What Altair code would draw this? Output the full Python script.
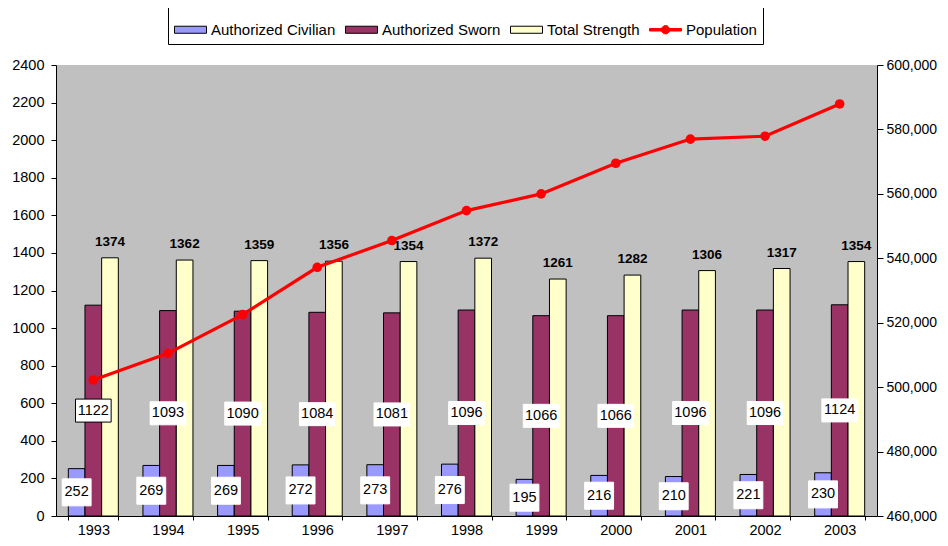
import altair as alt
import pandas as pd

years = ["1993", "1994", "1995", "1996", "1997", "1998", "1999", "2000", "2001", "2002", "2003"]
civilian = [252, 269, 269, 272, 273, 276, 195, 216, 210, 221, 230]
sworn = [1122, 1093, 1090, 1084, 1081, 1096, 1066, 1066, 1096, 1096, 1124]
total = [1374, 1362, 1359, 1356, 1354, 1372, 1261, 1282, 1306, 1317, 1354]
population = [502200, 510500, 522500, 537200, 545500, 554800, 560000, 569500, 577000, 577900, 587900]

bar_series = ["Authorized Civilian", "Authorized Sworn", "Total Strength"]
all_series = bar_series + ["Population"]
bar_colors = ["#9999FF", "#993366", "#FFFFCC"]
pop_color = "#FF0000"
left_ticks = list(range(0, 2401, 200))
right_ticks = list(range(460000, 600001, 20000))

rows = []
for i, y in enumerate(years):
    rows.append({"year": y, "series": bar_series[0], "value": civilian[i]})
    rows.append({"year": y, "series": bar_series[1], "value": sworn[i]})
    rows.append({"year": y, "series": bar_series[2], "value": total[i]})
bars_df = pd.DataFrame(rows)
pop_df = pd.DataFrame({"year": years, "series": "Population", "pop": population})

FONT = "Liberation Sans"
LSCALE = alt.Scale(domain=[0, 2400], nice=False, zero=True)
RSCALE = alt.Scale(domain=[460000, 600000], nice=False, zero=False)

x_enc = alt.X("year:N", sort=years,
              scale=alt.Scale(paddingInner=0.33, paddingOuter=0.165),
              axis=alt.Axis(title=None, labelAngle=0, tickBand="extent", tickSize=4,
                            labelPadding=3, labelFontSize=14.5, labelColor="black",
                            domainColor="black", tickColor="black", labelFont=FONT))
xoff = alt.XOffset("series:N", scale=alt.Scale(domain=bar_series, paddingInner=0, paddingOuter=0))

y_left = alt.Y("value:Q", scale=LSCALE,
               axis=alt.Axis(title=None, values=left_ticks, orient="left", format="d",
                             tickSize=5, labelPadding=7, labelFontSize=14.5, labelColor="black",
                             domainColor="black", tickColor="black", grid=False, labelFont=FONT))
y_right = alt.Y("pop:Q", scale=RSCALE,
                axis=alt.Axis(title=None, values=right_ticks, orient="right", format=",.0f",
                              tickSize=6, labelPadding=3, labelFontSize=14, labelColor="black",
                              domainColor="black", tickColor="black", grid=False, labelFont=FONT))
# bar colour scale has its own (3-entry) domain so its hidden legend never merges with the real one
color_enc = alt.Color("series:N", scale=alt.Scale(domain=bar_series, range=bar_colors), legend=None)

base = alt.Chart(bars_df)

bars = base.mark_bar(stroke="black", strokeWidth=1).encode(
    x=x_enc, xOffset=xoff, y=y_left, color=color_enc)

mid_y = alt.Y("mid:Q", scale=LSCALE, axis=None)

civ_box = base.transform_filter(alt.datum.series == bar_series[0]).transform_calculate(
    mid="datum.value / 2").mark_point(
    shape="M-1.07,-1H1.07V1H-1.07Z", size=729, filled=True, fill="white", opacity=1,
    stroke="white", strokeWidth=1).encode(x=x_enc, xOffset=xoff, y=mid_y)

sworn_box = base.transform_filter(alt.datum.series == bar_series[1]).transform_calculate(
    mid="datum.value / 2").mark_point(
    shape="M-1.55,-1H1.55V1H-1.55Z", size=529, filled=True, fill="white", opacity=1,
    strokeWidth=1).encode(
    x=x_enc, xOffset=xoff, y=mid_y,
    stroke=alt.condition("datum.year == '1993'", alt.value("black"), alt.value("white")))

mid_text = base.transform_filter(
    (alt.datum.series == bar_series[0]) | (alt.datum.series == bar_series[1])
).transform_calculate(mid="datum.value / 2").mark_text(
    fontSize=14.5, font=FONT, color="black", baseline="middle", align="center").encode(
    x=x_enc, xOffset=xoff, y=mid_y, text="value:Q")

total_text = base.transform_filter(alt.datum.series == bar_series[2]).mark_text(
    fontSize=13.5, font=FONT, fontWeight="bold", color="black", baseline="middle",
    align="center", dy=-16).encode(
    x=x_enc, xOffset=xoff, y=alt.Y("value:Q", scale=LSCALE, axis=None), text="value:Q")

pbase = alt.Chart(pop_df)
line = pbase.mark_line(strokeWidth=3.2, color=pop_color).encode(x=x_enc, y=y_right)
pts = pbase.mark_circle(size=92, opacity=1, color=pop_color).encode(
    x=x_enc, y=alt.Y("pop:Q", scale=RSCALE, axis=None))

rect_path = "M-1,-0.22H1V0.22H-1Z"
pop_path = ("M-1,-0.08H1V0.08H-1Z"
            "M0.25,0.1L0.1,0.25L-0.1,0.25L-0.25,0.1L-0.25,-0.1L-0.1,-0.25L0.1,-0.25L0.25,-0.1Z")
leg = alt.Legend(orient="none", legendX=112, legendY=-58, direction="horizontal", title=None,
                 fillColor="white", strokeColor="black", padding=6, columnPadding=7,
                 labelOffset=4, labelFontSize=15, labelFont=FONT, labelColor="black",
                 symbolSize=1024, symbolStrokeWidth=1, labelLimit=300)
legend_layer = pbase.mark_point(filled=True, opacity=1, size=0).encode(
    x=x_enc,
    y=alt.Y("pop:Q", scale=RSCALE, axis=None),
    fill=alt.Fill("series:N", scale=alt.Scale(domain=all_series, range=bar_colors + [pop_color]),
                  legend=leg),
    shape=alt.Shape("series:N", scale=alt.Scale(domain=all_series,
                                                range=[rect_path, rect_path, rect_path, pop_path]),
                    legend=leg),
    stroke=alt.Stroke("series:N", scale=alt.Scale(domain=all_series,
                                                  range=["black", "black", "black", pop_color]),
                      legend=leg))

chart = alt.layer(bars, civ_box, sworn_box, mid_text, total_text, line, pts, legend_layer
                  ).resolve_scale(y="independent").properties(
    width=821, height=451,
    padding={"left": 48, "top": 57, "right": 63, "bottom": 22},
    autosize=alt.AutoSizeParams(type="none"),
    background="white",
).configure(font=FONT).configure_view(fill="#C0C0C0", strokeWidth=0).configure_axis(grid=False)

chart.save("out.html", embed_options={"renderer": "svg", "actions": False})
